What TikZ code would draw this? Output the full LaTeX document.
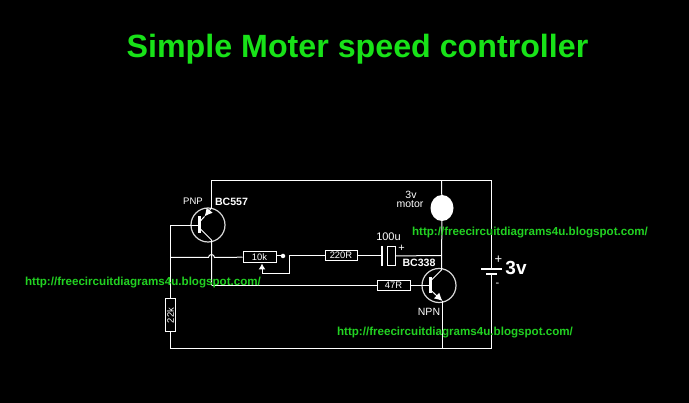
\documentclass[tikz,border=0pt]{standalone}
\usepackage{fontspec}
\setmainfont{Liberation Sans}
\usetikzlibrary{arrows.meta,shapes.geometric}
\definecolor{titlegreen}{RGB}{24,226,24}
\definecolor{urlgreen}{RGB}{34,210,34}
\tikzset{
    wire/.style={draw=white,line width=1pt},
    resistor/.style={draw=white,line width=1pt,text=white,fill=black,rectangle,minimum width=33pt,minimum height=10.5pt,inner sep=0pt,font=\fontsize{9.4}{9.4}\selectfont},
    caption/.style={text=white,inner sep=0pt,font=\fontsize{9.5}{9.5}\selectfont},
    partname/.style={text=white,inner sep=0pt,font=\fontsize{10.6}{10.6}\selectfont\bfseries},
    urltext/.style={text=urlgreen,inner sep=0pt,font=\fontsize{11.6}{11.6}\selectfont\bfseries},
    tcircle/.style={draw=white!85!black,line width=1.2pt,circle,minimum size=34pt,inner sep=0pt},
    emitter/.style={wire,-{Latex[length=8pt,width=8pt]}}
}
\begin{document}
\begin{tikzpicture}[x=1pt,y=-1pt]
    \pgfmathsetmacro{\W}{689}
    \pgfmathsetmacro{\H}{403}

    % background
    \fill[black] (0,0) rectangle (\W,\H);
    \useasboundingbox (0,0) rectangle (\W,\H);

    % title
    \node[text=titlegreen,inner sep=0pt,font=\fontsize{32.2}{32.2}\selectfont\bfseries] (title) at (357.5,49) {Simple Moter speed controller};

    % corners and junctions
    \coordinate (TL) at (211.5,180.5);
    \coordinate (TM) at (441.5,180.5);
    \coordinate (TR) at (491.5,180.5);
    \coordinate (BL) at (170.5,348.5);
    \coordinate (BM) at (442.5,348.5);
    \coordinate (BR) at (491.5,348.5);
    \coordinate (LB) at (170.5,225.5);
    \coordinate (LM) at (170.5,257.5);
    \coordinate (CJ) at (211.5,285.5);
    \coordinate (MJ) at (441.5,255.5);

    % transistors
    \node[tcircle] (Q1) at (208,225) {};
    \node[tcircle] (Q2) at (439,285.5) {};
    \coordinate (Q1b) at (199.5,225.5);
    \coordinate (Q1e) at (211.5,208);
    \coordinate (Q1c) at (211.5,240);
    \coordinate (Q2b) at (430,285.5);
    \coordinate (Q2e) at (442.5,301);
    \coordinate (Q2c) at (441.5,270);

    % parts
    \node[resistor] (R10k) at (259.5,257) {10k};
    \node[resistor,minimum width=32pt] (R220) at (341,255.5) {220R};
    \node[resistor] (R47) at (393.5,285.5) {47R};
    \node[resistor,rotate=90] (R22k) at (170.5,315.5) {22k};
    \node[fill=white,ellipse,minimum width=23pt,minimum height=26pt,inner sep=0pt] (M1) at (442,208) {};
    \node[draw=white,line width=1.2pt,fill=black,rectangle,minimum width=8pt,minimum height=19pt,inner sep=0pt] (C1b) at (391.5,256) {};
    \coordinate (C1a) at (382,255.5);

    % main loop
    \draw[wire] (Q1e) -- (TL) -- (TR) -- (491.5,269);
    \draw[wire] (491.5,274) -- (BR) -- (BL) -- (R22k) -- (LB) -- (Q1b);
    \draw[wire] (TM) -- (M1) -- (Q2c);
    \draw[wire] (Q2e) -- (BM);

    % battery
    \draw[white,line width=2pt] (481,269) -- (502,269);
    \draw[white,line width=2pt] (486,274) -- (497,274);

    % pnp
    \draw[white,line width=3pt] (199.5,216.5) -- (199.5,233.5);
    \draw[emitter] (Q1e) -- (204.5,216.5);
    \draw[wire] (204.5,216.5) -- (199.5,222);
    \draw[wire] (199.5,228) -- (Q1c) -- (CJ);

    % npn
    \draw[white,line width=3pt] (430,277.5) -- (430,293.5);
    \draw[wire] (430,281.5) -- (Q2c);
    \draw[emitter] (430,289.5) -- (Q2e);
    \draw[wire] (R47) -- (Q2b);

    % base wires
    \draw[wire] (LM) -- (208.5,257.5) arc[start angle=180,end angle=360,radius=3] -- (R10k);
    \draw[wire] (CJ) -- (R47);

    % pot wiper and capacitor
    \node[fill=white,circle,minimum size=4.5pt,inner sep=0pt] (D1) at (283,256) {};
    \draw[wire] (R10k.east |- D1) -- (D1);
    \draw[wire,-{Latex[length=6pt,width=7pt]}] (289.5,255.5) -- (289.5,273.5) -- (262,273.5) -- (262,263.5);
    \draw[wire] (R220) -- (289.5,255.5);
    \draw[wire] (R220) -- (C1a);
    \draw[wire] (C1b) -- (MJ);
    \draw[white,line width=2pt] (382,246) -- (382,266);

    % labels
    \node[caption] (L1) at (193,201) {PNP};
    \node[partname] (L2) at (231.5,202) {BC557};
    \node[caption,font=\fontsize{10.5}{10.5}\selectfont] (L3) at (411,195) {3v};
    \node[caption,font=\fontsize{10.5}{10.5}\selectfont] (L4) at (410,204.5) {motor};
    \node[caption,font=\fontsize{11}{11}\selectfont] (L5) at (388.5,236.5) {100u};
    \node[partname] (L6) at (419,262.5) {BC338};
    \node[caption,font=\fontsize{10.5}{10.5}\selectfont] (L7) at (429,312) {NPN};
    \node[caption,font=\fontsize{11}{11}\selectfont] (L8) at (401.5,248) {+};
    \node[caption,font=\fontsize{13}{13}\selectfont] (L9) at (498.5,260) {+};
    \node[caption,font=\fontsize{11}{11}\selectfont] (L10) at (497.5,285) {-};
    \node[text=white,inner sep=0pt,font=\fontsize{19}{19}\selectfont\bfseries] (L11) at (516,267.5) {3v};

    % links
    \node[urltext] (U1) at (530,232.5) {http://freecircuitdiagrams4u.blogspot.com/};
    \node[urltext] (U2) at (143,282.5) {http://freecircuitdiagrams4u.blogspot.com/};
    \node[urltext] (U3) at (455,332.5) {http://freecircuitdiagrams4u.blogspot.com/};
\end{tikzpicture}
\end{document}
